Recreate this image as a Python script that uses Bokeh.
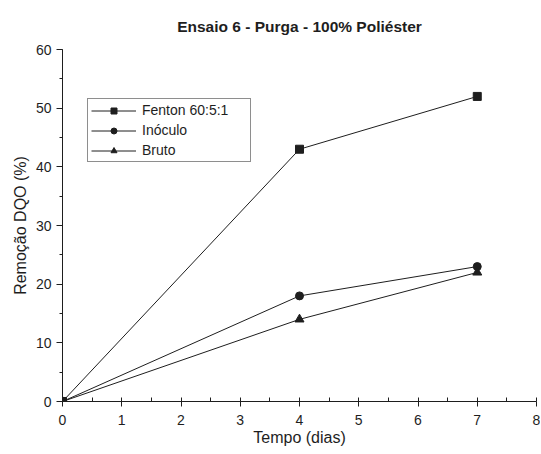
from bokeh.plotting import figure
from bokeh.models import Range1d, Legend, LegendItem, SingleIntervalTicker
from bokeh.embed import file_html
from bokeh.resources import INLINE

# ---- data ----
dias = [0, 4, 7]
fenton = [0, 43, 52]
inoculo = [0, 18, 23]
bruto = [0, 14, 22]
series_labels = ["Fenton 60:5:1", "Inóculo", "Bruto"]
series_markers = ["square", "circle", "triangle"]
title_text = "Ensaio 6 - Purga - 100% Poliéster"
x_label = "Tempo (dias)"
y_label = "Remoção DQO (%)"

FONT = "Liberation Sans"
INK = "#1e1e1e"

p = figure(width=540, height=453, output_backend="svg", toolbar_location=None,
           x_range=Range1d(0, 8), y_range=Range1d(0, 60),
           min_border_left=62, min_border_right=4, min_border_top=49, min_border_bottom=52)

p.outline_line_color = None
p.xgrid.visible = False
p.ygrid.visible = False
p.background_fill_color = "white"
p.border_fill_color = "white"

# title
p.title.text = title_text
p.title.align = "center"
p.title.offset = 3
p.title.text_font = FONT
p.title.text_font_size = "15.5px"
p.title.text_font_style = "bold"
p.title.text_color = INK
p.title.standoff = 29

# axes
p.xaxis.ticker = SingleIntervalTicker(interval=1, num_minor_ticks=2)
p.yaxis.ticker = SingleIntervalTicker(interval=10, num_minor_ticks=2)
for ax in (p.xaxis, p.yaxis):
    ax.axis_line_color = INK
    ax.axis_line_width = 1
    ax.major_tick_line_color = INK
    ax.minor_tick_line_color = INK
    ax.major_label_text_font = FONT
    ax.major_label_text_font_size = "14px"
    ax.major_label_text_color = INK
    ax.axis_label_text_font = FONT
    ax.axis_label_text_font_size = "16px"
    ax.axis_label_text_font_style = "normal"
    ax.axis_label_text_color = INK
    ax.major_tick_in = 0

p.xaxis.axis_label = x_label
p.xaxis.major_tick_out = 5
p.xaxis.minor_tick_in = 4
p.xaxis.minor_tick_out = 0
p.xaxis.major_label_standoff = 8
p.xaxis.axis_label_standoff = 1

p.yaxis.axis_label = y_label
p.yaxis.major_tick_out = 6
p.yaxis.minor_tick_in = 0
p.yaxis.minor_tick_out = 3
p.yaxis.major_label_standoff = 5
p.yaxis.axis_label_standoff = 4

items = []
for label, ys, marker, size in zip(series_labels, [fenton, inoculo, bruto], series_markers, [8, 8, 9]):
    ln = p.line(dias, ys, line_color=INK, line_width=1)
    sc = p.scatter(dias, ys, marker=marker, size=size, fill_color=INK, line_color=INK)
    items.append(LegendItem(label=label, renderers=[ln, sc]))

legend = Legend(items=items, location=(25, 239))
legend.border_line_color = INK
legend.border_line_width = 1
legend.background_fill_alpha = 1
legend.label_text_font = FONT
legend.label_text_font_size = "14px"
legend.label_text_color = INK
legend.glyph_width = 45
legend.glyph_height = 15
legend.label_height = 16
legend.label_width = 105
legend.label_standoff = 6
legend.spacing = 4
legend.padding = 3
legend.margin = 0
p.add_layout(legend, "center")

open("out.html", "w").write(file_html(p, INLINE))
